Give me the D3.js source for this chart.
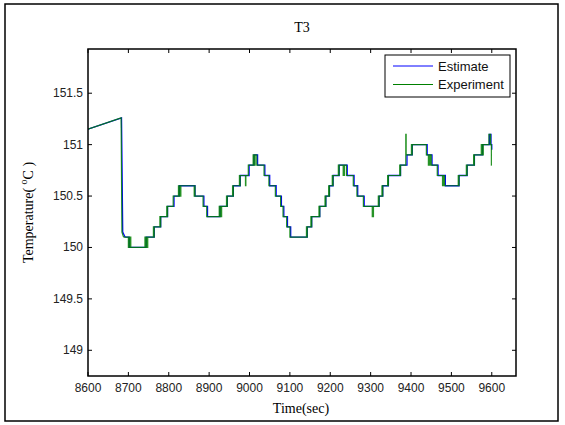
<!DOCTYPE html>
<html lang="en">

<head>
  <meta charset="utf-8">
  <title>T3</title>
  <script src="https://d3js.org/d3.v7.min.js"></script>
  <style>
    body { margin: 0; background: #fff; }
  </style>
</head>

<body>
  <div id="chart"></div>

  <script>
    // Tick values
    var xTicks = [8600, 8700, 8800, 8900, 9000, 9100, 9200, 9300, 9400, 9500, 9600];
    var yTicks = [149, 149.5, 150, 150.5, 151, 151.5];

    // Experiment: initial ramp + drop, then step changes (time, level)
    var expRampTime = [8600, 8682, 8684, 8688];
    var expRampTemp = [151.15, 151.26, 150.15, 150.1];
    var expStepTime = [8688, 8700, 8702, 8703, 8705, 8706, 8741, 8743, 8744, 8746, 8748, 8762, 8763, 8764,
      8778, 8779, 8780, 8795, 8796, 8797, 8811, 8824, 8825.5, 8827, 8828, 8830, 8863, 8864, 8865, 8885, 8894,
      8925, 8927, 8928, 8930, 8931, 8943, 8944, 8945, 8958, 8959, 8960, 8975, 8976, 8977, 8990, 8991, 8997,
      9009, 9010, 9011, 9013, 9014, 9018, 9036, 9048, 9064, 9077, 9083, 9092, 9100, 9141, 9142, 9143, 9152,
      9153, 9154, 9172, 9173, 9174, 9187, 9188, 9189, 9196, 9197, 9198, 9205, 9206, 9207, 9220, 9221, 9222,
      9232, 9233, 9234, 9235, 9240, 9257, 9266, 9282, 9304, 9305, 9306, 9307, 9319, 9320, 9321, 9328, 9329,
      9330, 9342, 9343, 9344, 9372, 9373, 9374, 9387, 9388, 9401, 9402, 9403, 9438, 9443, 9444, 9446, 9447,
      9450, 9465, 9478, 9479, 9480, 9481, 9483, 9517, 9518, 9519, 9537, 9538, 9539, 9555, 9556, 9557, 9574,
      9575, 9576, 9578, 9579, 9593, 9597, 9599, 9600];
    var expStepTemp = [150.1, 150.0, 150.1, 150.0, 150.1, 150.0, 150.1, 150.0, 150.1, 150.0, 150.1, 150.2, 150.1, 150.2,
      150.3, 150.2, 150.3, 150.4, 150.3, 150.4, 150.5, 150.6, 150.5, 150.6, 150.5, 150.6, 150.5, 150.6, 150.5, 150.4, 150.3,
      150.4, 150.3, 150.4, 150.3, 150.4, 150.5, 150.4, 150.5, 150.6, 150.5, 150.6, 150.7, 150.6, 150.7, 150.6, 150.7, 150.8,
      150.9, 150.8, 150.9, 150.8, 150.9, 150.8, 150.7, 150.6, 150.5, 150.4, 150.3, 150.2, 150.1, 150.2, 150.1, 150.2, 150.3,
      150.2, 150.3, 150.4, 150.3, 150.4, 150.5, 150.4, 150.5, 150.6, 150.5, 150.6, 150.7, 150.6, 150.7, 150.8, 150.7, 150.8,
      150.7, 150.8, 150.7, 150.8, 150.7, 150.6, 150.5, 150.4, 150.3, 150.4, 150.3, 150.4, 150.5, 150.4, 150.5, 150.6, 150.5,
      150.6, 150.7, 150.6, 150.7, 150.8, 150.7, 150.8, 151.1, 150.9, 151.0, 150.9, 151.0, 150.9, 150.8, 150.9, 150.8, 150.9,
      150.8, 150.7, 150.6, 150.7, 150.6, 150.7, 150.6, 150.7, 150.6, 150.7, 150.8, 150.7, 150.8, 150.9, 150.8, 150.9, 151.0,
      150.9, 151.0, 150.9, 151.0, 151.1, 151.0, 150.8, 150.8];

    // Estimate: same shape, lags the measurement slightly
    var estRampTime = [8600, 8683, 8686, 8692];
    var estRampTemp = [151.15, 151.26, 150.15, 150.1];
    var estStepTime = [8692, 8702, 8744, 8764, 8780, 8797, 8813, 8826, 8865, 8887, 8896, 8927, 8945, 8960, 8977,
      8999, 9011, 9020, 9038, 9050, 9066, 9079, 9085, 9094, 9102, 9143, 9154, 9174, 9189, 9198, 9207, 9222, 9242,
      9259, 9268, 9284, 9321, 9330, 9344, 9374, 9390, 9403, 9440, 9452, 9467, 9485, 9519, 9539, 9557, 9577, 9594,
      9598, 9600];
    var estStepTemp = [150.1, 150.0, 150.1, 150.2, 150.3, 150.4, 150.5, 150.6, 150.5, 150.4, 150.3, 150.4, 150.5, 150.6, 150.7,
      150.8, 150.9, 150.8, 150.7, 150.6, 150.5, 150.4, 150.3, 150.2, 150.1, 150.2, 150.3, 150.4, 150.5, 150.6, 150.7, 150.8, 150.7,
      150.6, 150.5, 150.4, 150.5, 150.6, 150.7, 150.8, 150.9, 151.0, 150.9, 150.8, 150.7, 150.6, 150.7, 150.8, 150.9, 151.0, 151.1,
      151.0, 150.95];

    var W = 565, H = 425;
    var plot = { left: 88, right: 516, top: 49, bottom: 376 };

    var svg = d3.select("#chart").append("svg")
      .attr("width", W).attr("height", H)
      .style("font-family", "'Liberation Sans', Arial, sans-serif");

    // Figure frame
    svg.append("rect")
      .attr("x", 5).attr("y", 4).attr("width", 553).attr("height", 417)
      .attr("fill", "none").attr("stroke", "#000").attr("stroke-width", 1.5);

    var x = d3.scaleLinear().domain([8600, 9660]).range([plot.left, plot.right]);
    var y = d3.scaleLinear().domain([148.75, 151.93]).range([plot.bottom, plot.top]);

    // Clip for the data lines
    svg.append("clipPath").attr("id", "clip").append("rect")
      .attr("x", plot.left).attr("y", plot.top)
      .attr("width", plot.right - plot.left).attr("height", plot.bottom - plot.top);

    function pts(ts, vs) {
      return ts.map(function (t, i) { return [t, vs[i]]; });
    }

    var lineLin = d3.line().x(d => x(d[0])).y(d => y(d[1]));
    var lineStep = d3.line().x(d => x(d[0])).y(d => y(d[1])).curve(d3.curveStepAfter);

    var g = svg.append("g").attr("clip-path", "url(#clip)");

    // Estimate (blue) underneath
    g.append("path").attr("d", lineLin(pts(estRampTime, estRampTemp)))
      .attr("fill", "none").attr("stroke", "#0000ff").attr("stroke-width", 1.3);
    g.append("path").attr("d", lineStep(pts(estStepTime, estStepTemp)))
      .attr("fill", "none").attr("stroke", "#0000ff").attr("stroke-width", 1.3);

    // Experiment (green) on top
    g.append("path").attr("d", lineLin(pts(expRampTime, expRampTemp)))
      .attr("fill", "none").attr("stroke", "#008000").attr("stroke-width", 1.2).attr("stroke-opacity", 0.85);
    g.append("path").attr("d", lineStep(pts(expStepTime, expStepTemp)))
      .attr("fill", "none").attr("stroke", "#008000").attr("stroke-width", 1.2).attr("stroke-opacity", 0.85);

    // Axes (ticks inside, mirrored on top and right)
    var tickLen = 4;
    var axes = svg.append("g").attr("stroke", "#000").attr("stroke-width", 1);

    axes.selectAll(".xt").data(xTicks).enter().append("line")
      .attr("x1", d => x(d)).attr("x2", d => x(d))
      .attr("y1", plot.bottom).attr("y2", plot.bottom - tickLen);
    axes.selectAll(".xtt").data(xTicks).enter().append("line")
      .attr("x1", d => x(d)).attr("x2", d => x(d))
      .attr("y1", plot.top).attr("y2", plot.top + tickLen);
    axes.selectAll(".yt").data(yTicks).enter().append("line")
      .attr("x1", plot.left).attr("x2", plot.left + tickLen)
      .attr("y1", d => y(d)).attr("y2", d => y(d));
    axes.selectAll(".ytr").data(yTicks).enter().append("line")
      .attr("x1", plot.right).attr("x2", plot.right - tickLen)
      .attr("y1", d => y(d)).attr("y2", d => y(d));

    svg.append("rect")
      .attr("x", plot.left).attr("y", plot.top)
      .attr("width", plot.right - plot.left).attr("height", plot.bottom - plot.top)
      .attr("fill", "none").attr("stroke", "#000").attr("stroke-width", 1.5);

    // Tick labels
    svg.selectAll(".xl").data(xTicks).enter().append("text")
      .attr("x", d => x(d)).attr("y", plot.bottom + 16)
      .attr("text-anchor", "middle").attr("font-size", 12).attr("fill", "#222")
      .text(d => d);
    svg.selectAll(".yl").data(yTicks).enter().append("text")
      .attr("x", plot.left - 5).attr("y", d => y(d) + 4)
      .attr("text-anchor", "end").attr("font-size", 12).attr("fill", "#222")
      .text(d => d);

    // Title and axis labels
    svg.append("text").attr("x", (plot.left + plot.right) / 2).attr("y", 32)
      .attr("text-anchor", "middle").attr("font-family", "'Liberation Serif', 'Times New Roman', serif")
      .attr("font-size", 14).text("T3");

    svg.append("text").attr("x", 301).attr("y", 413)
      .attr("text-anchor", "middle").attr("font-family", "'Liberation Serif', 'Times New Roman', serif")
      .attr("font-size", 14).text("Time(sec)");

    var yl = svg.append("text")
      .attr("transform", "translate(33," + ((plot.top + plot.bottom) / 2) + ") rotate(-90)")
      .attr("text-anchor", "middle").attr("font-family", "'Liberation Serif', 'Times New Roman', serif")
      .attr("font-size", 14);
    yl.append("tspan").text("Temperature( ");
    yl.append("tspan").attr("font-size", 10).attr("dy", -6).text("o");
    yl.append("tspan").attr("dy", 6).text("C )");

    // Legend
    var legend = svg.append("g");
    legend.append("rect").attr("x", 385).attr("y", 55).attr("width", 125).attr("height", 42)
      .attr("fill", "#fff").attr("stroke", "#000").attr("stroke-width", 1);
    var items = [["Estimate", "#0000ff"], ["Experiment", "#008000"]];
    items.forEach(function (it, i) {
      var ly = 66 + i * 18.5;
      legend.append("line").attr("x1", 393).attr("x2", 433).attr("y1", ly).attr("y2", ly)
        .attr("stroke", it[1]).attr("stroke-width", 1);
      legend.append("text").attr("x", 438).attr("y", ly + 4.5)
        .attr("font-size", 13).attr("fill", "#111").text(it[0]);
    });
  </script>
</body>

</html>
